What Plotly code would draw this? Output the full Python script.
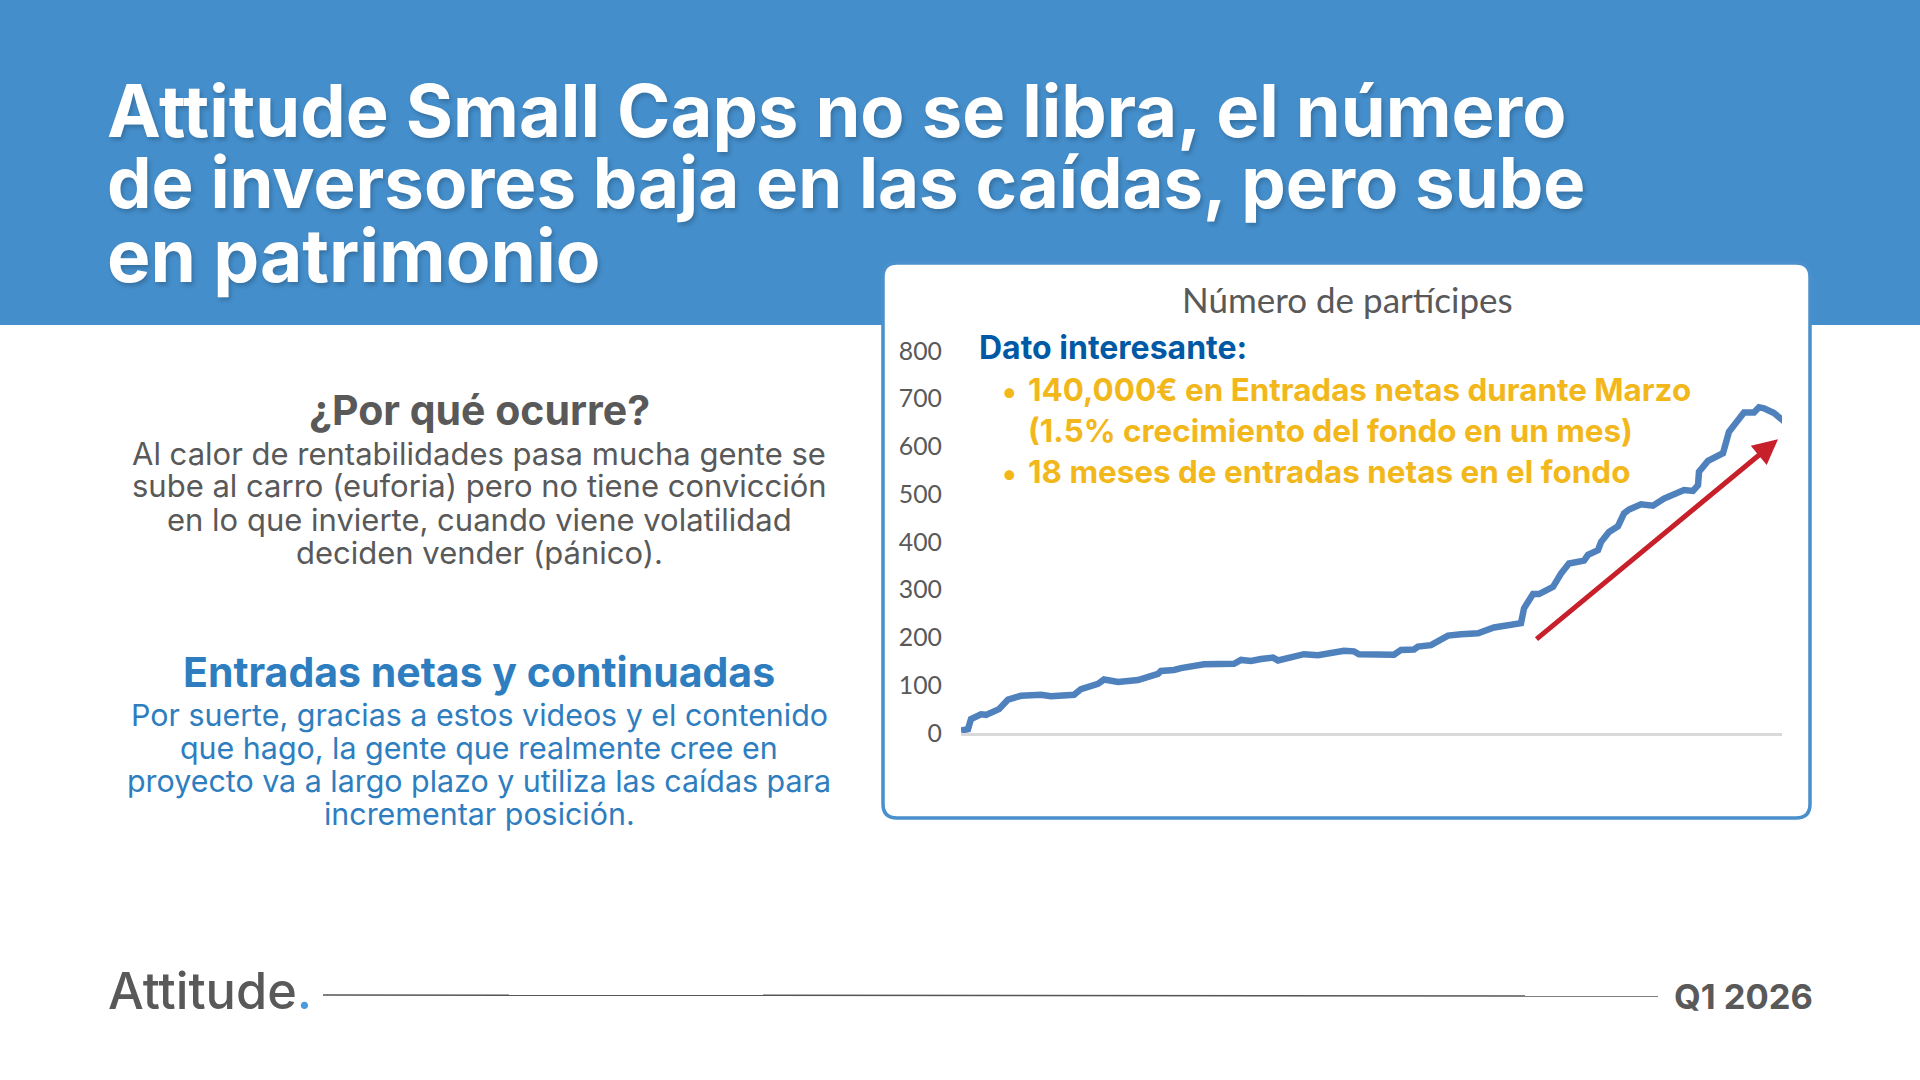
import plotly.graph_objects as go

W, H = 1920, 1080

# ---- data ----
dias = [0, 7, 10, 20, 25, 38, 47, 60, 80, 90, 113, 120, 137, 143, 157, 177, 197, 200, 213, 220,
        243, 273, 280, 290, 300, 312, 317, 333, 343, 357, 370, 383, 393, 398, 433, 440, 453, 457,
        470, 477, 487, 500, 517, 533, 550, 560, 563, 572, 578, 592, 600, 608, 623, 627, 637, 640,
        648, 657, 663, 668, 680, 692, 703, 723, 732, 737, 738, 747, 762, 768, 783, 793, 798, 803,
        813, 823]
participes = [5, 8, 29, 39, 38, 50, 70, 78, 80, 77, 80, 92, 103, 112, 107, 111, 124, 130, 132, 136,
              144, 145, 153, 151, 155, 158, 152, 161, 165, 163, 168, 172, 171, 165, 164, 174, 175, 181,
              184, 193, 204, 207, 209, 221, 226, 230, 261, 291, 291, 306, 334, 355, 361, 373, 383, 400,
              421, 433, 460, 468, 479, 476, 491, 509, 507, 519, 547, 570, 586, 631, 671, 671, 682, 680,
              670, 653]
y_ticks = [0, 100, 200, 300, 400, 500, 600, 700, 800]

titulo = ["Attitude Small Caps no se libra, el número",
          "de inversores baja en las caídas, pero sube",
          "en patrimonio"]
por_que_titulo = "¿Por qué ocurre?"
por_que = ["Al calor de rentabilidades pasa mucha gente se",
           "sube al carro (euforia) pero no tiene convicción",
           "en lo que invierte, cuando viene volatilidad",
           "deciden vender (pánico)."]
entradas_titulo = "Entradas netas y continuadas"
entradas = ["Por suerte, gracias a estos videos y el contenido",
            "que hago, la gente que realmente cree en",
            "proyecto va a largo plazo y utiliza las caídas para",
            "incrementar posición."]
chart_title = "Número de partícipes"
dato = "Dato interesante:"
bullets = ["140,000€ en Entradas netas durante Marzo",
           "(1.5% crecimiento del fondo en un mes)",
           "18 meses de entradas netas en el fondo"]

BLUE = "#448ECB"
GREY = "#595959"
MID = "#2E7EBF"
GOLD = "#F2B81B"
SANS = "Inter"


def px(x):
    return x / W


def py(y):
    return 1 - y / H


def note(text, x, y, size, color, anchor="left", bold=False, family=SANS, **font_extra):
    return dict(text=f"<b>{text}</b>" if bold else text, x=px(x), y=py(y), xref="paper", yref="paper",
                xanchor=anchor, yanchor="middle", showarrow=False,
                font=dict(family=family, size=size, color=color, **font_extra))


fig = go.Figure(go.Scatter(x=dias, y=participes, mode="lines",
                           line=dict(color="#4F81BD", width=6.5), cliponaxis=False,
                           hoverinfo="skip"))

# card path (rounded rectangle, paper coordinates)
L, R, T, B, r = 883, 1810, 263, 818, 14
card = (f"M {px(L + r)} {py(T)} L {px(R - r)} {py(T)} Q {px(R)} {py(T)} {px(R)} {py(T + r)} "
        f"L {px(R)} {py(B - r)} Q {px(R)} {py(B)} {px(R - r)} {py(B)} "
        f"L {px(L + r)} {py(B)} Q {px(L)} {py(B)} {px(L)} {py(B - r)} "
        f"L {px(L)} {py(T + r)} Q {px(L)} {py(T)} {px(L + r)} {py(T)} Z")

shapes = [
    dict(type="rect", xref="paper", yref="paper", x0=0, x1=1, y0=py(325), y1=1,
         fillcolor=BLUE, line_width=0, layer="below"),
    dict(type="path", xref="paper", yref="paper", path=card, fillcolor="white",
         line=dict(color="#4A90CC", width=3.5), layer="below"),
    dict(type="line", xref="paper", yref="paper", x0=px(323), x1=px(1658), y0=py(995), y1=py(996),
         line=dict(color="#555555", width=1.5)),
]

ann = []
for line, yy, size in zip(titulo, [110, 182, 255], [72.2, 70.7, 73]):
    ann.append(note(line, 105, yy, size, "white", bold=True, shadow="2px 3px 4px rgba(0,0,0,0.2)"))
ann.append(note(por_que_titulo, 479, 410, 41, GREY, "center", True))
for line, yy in zip(por_que, [453, 486, 519, 552]):
    ann.append(note(line, 479, yy, 31, GREY, "center"))
ann.append(note(entradas_titulo, 479, 672, 41, MID, "center", True))
for line, yy in zip(entradas, [715, 748, 781, 814]):
    ann.append(note(line, 479, yy, 30.4, MID, "center"))

ann.append(note(chart_title, 1347, 299, 35, GREY, "center", family="Lato"))
ann.append(note(dato, 977, 348, 32, "#0059A5", bold=True))
for line, yy in zip(bullets, [390, 431, 472]):
    ann.append(note(line, 1026, yy, 31.4, GOLD, bold=True))
ann.append(note("•", 1000, 390, 31, GOLD, bold=True))
ann.append(note("•", 1000, 472, 31, GOLD, bold=True))

ann.append(note("Attitude<span style='color:#4A9BDE'>.</span>", 105.5, 990, 50.5, GREY, weight=500))
ann.append(note("Q1 2026", 1815, 996, 34.5, GREY, "right", True))

# growth arrow, from the tail value to the head value
ann.append(dict(x=817, y=615, ax=574, ay=194, xref="x", yref="y", axref="x", ayref="y", text="",
                showarrow=True, arrowhead=2, arrowsize=1, arrowwidth=5, arrowcolor="#C8202A"))

fig.update_layout(
    template="none", width=W, height=H, margin=dict(l=0, r=0, t=0, b=0, pad=0, autoexpand=False),
    paper_bgcolor="white", plot_bgcolor="rgba(0,0,0,0)",
    showlegend=False, shapes=shapes, annotations=ann,
    xaxis=dict(domain=[px(961), px(1782)], range=[0, 821], showgrid=False, zeroline=False, showticklabels=False,
               ticks="", showline=True, linecolor="#D9D9D9", linewidth=2.5, automargin=False),
    yaxis=dict(domain=[py(733), py(351)], range=[0, 800], tickvals=y_ticks, showgrid=False, zeroline=False,
               showline=False, ticks="", ticklabelstandoff=18, automargin=False,
               tickfont=dict(family="Lato", size=24.8, color=GREY)),
)

fig.write_html("out.html", config={"displayModeBar": False},
               post_script="document.body.style.margin='0';document.documentElement.style.overflow='hidden';")
